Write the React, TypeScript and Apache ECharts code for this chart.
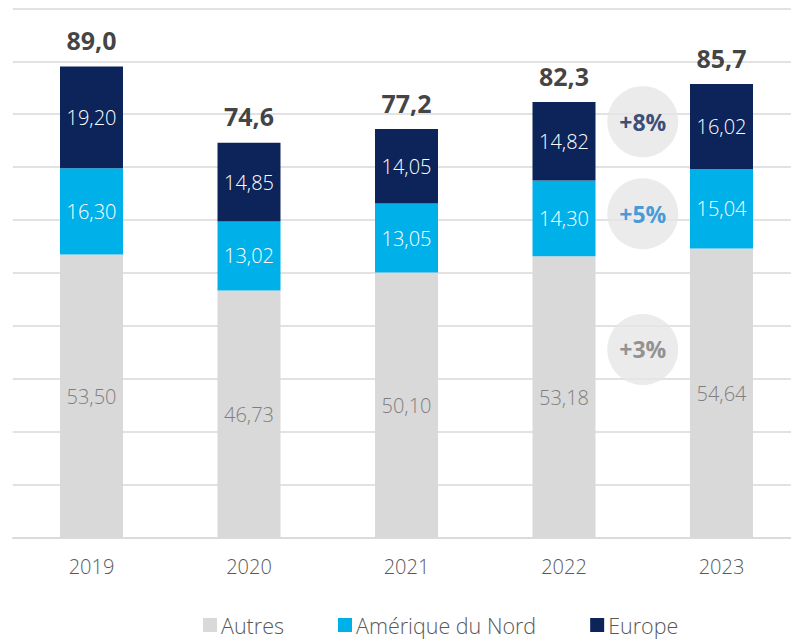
import React, { useEffect, useRef } from "react";
import * as echarts from "echarts";

const categories = ["2019", "2020", "2021", "2022", "2023"];
const autres = [53.5, 46.73, 50.1, 53.18, 54.64];
const ameriqueNord = [16.3, 13.02, 13.05, 14.3, 15.04];
const europe = [19.2, 14.85, 14.05, 14.82, 16.02];
const totals = [89.0, 74.6, 77.2, 82.3, 85.7];
const growthLabels = ["+8%", "+5%", "+3%"];
const growthY = [78.6, 61.2, 35.6];
const growthX = 3.5;
const growthColors = ["#0c2459", "#1a86d3", "#7a7a7a"];

const FONT = "'Open Sans', 'Noto Sans', sans-serif";
const fmt = (v: number, d: number) => v.toFixed(d).replace(".", ",");

export default function App() {
  const ref = useRef<HTMLDivElement>(null);
  useEffect(() => {
    document.body.style.margin = "0";
    document.body.style.overflow = "hidden";
    const chart = echarts.init(ref.current!, null, { renderer: "svg" });
    const barLabel = (color: string) => ({
      show: true,
      position: "inside" as const,
      color,
      fontFamily: FONT,
      fontSize: 20,
      fontWeight: 300 as any,
      formatter: (p: any) => fmt(p.value, 2),
    });
    chart.setOption({
      animation: false,
      textStyle: { fontFamily: FONT },
      grid: { left: 12.75, right: 0.75, top: 8.3, bottom: 102 },
      legend: {
        data: ["Autres", "Amérique du Nord", "Europe"],
        top: 609,
        left: 198,
        itemWidth: 14,
        itemHeight: 14,
        itemGap: 54,
        icon: "rect",
        textStyle: { color: "#595959", fontSize: 21.5, fontFamily: FONT, fontWeight: 300 as any, padding: [0, 0, 0, -1] },
      },
      xAxis: [
        {
          type: "category",
          data: categories,
          axisLine: { lineStyle: { color: "#d9d9d9", width: 1.5 } },
          axisTick: { show: false },
          axisLabel: { color: "#595959", fontSize: 20, margin: 18, fontFamily: FONT, fontWeight: 300 as any },
        },
        { type: "value", min: -0.5, max: 4.5, show: false },
      ],
      yAxis: {
        type: "value",
        min: 0,
        max: 100,
        interval: 10,
        axisLabel: { show: false },
        axisLine: { show: false },
        axisTick: { show: false },
        splitLine: { lineStyle: { color: "#d9d9d9", width: 1.5 } },
      },
      series: [
        {
          name: "Autres",
          type: "bar",
          stack: "t",
          data: autres,
          barWidth: "40%",
          itemStyle: { color: "#d9d9d9" },
          label: barLabel("#7f7f7f"),
        },
        {
          name: "Amérique du Nord",
          type: "bar",
          stack: "t",
          data: ameriqueNord,
          barWidth: "40%",
          itemStyle: { color: "#00b0e8" },
          label: barLabel("#ffffff"),
        },
        {
          name: "Europe",
          type: "bar",
          stack: "t",
          data: europe,
          barWidth: "40%",
          itemStyle: { color: "#0c2459" },
          label: barLabel("#ffffff"),
        },
        {
          name: "totals",
          type: "scatter",
          data: totals,
          symbolSize: 0,
          label: {
            show: true,
            position: "top",
            distance: 14,
            color: "#111111",
            fontSize: 25,
            fontWeight: "bold",
            fontFamily: FONT,
            formatter: (p: any) => fmt(p.value, 1),
          },
        },
        {
          name: "growth",
          type: "scatter",
          xAxisIndex: 1,
          data: growthY.map((y, i) => ({
            value: [growthX, y],
            label: { color: growthColors[i] },
          })),
          symbol: "circle",
          symbolSize: 71,
          itemStyle: { color: "#e6e6e6" },
          label: {
            show: true,
            position: "inside",
            fontSize: 23,
            fontWeight: "bold",
            fontFamily: FONT,
            formatter: (p: any) => growthLabels[p.dataIndex],
          },
        },
      ],
    });
    return () => chart.dispose();
  }, []);
  return (
    <div style={{ width: 791, height: 640, overflow: "hidden" }}>
      <div ref={ref} style={{ width: 801, height: 640 }} />
    </div>
  );
}
